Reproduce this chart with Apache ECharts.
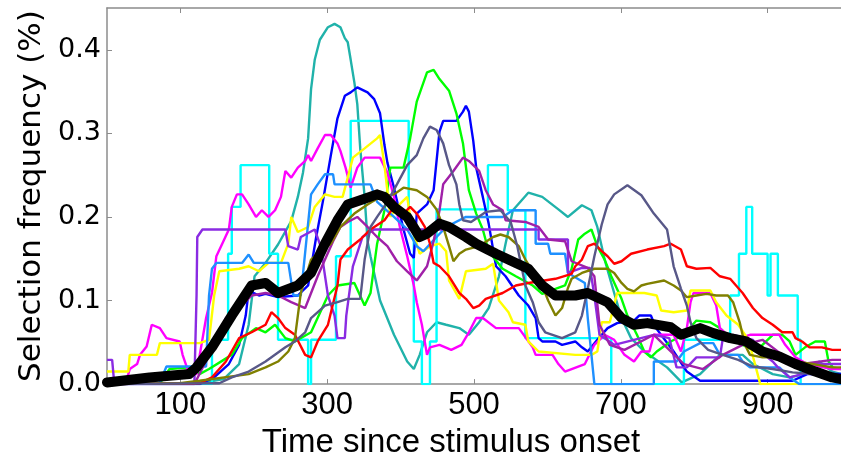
<!DOCTYPE html>
<html>
<head>
<meta charset="utf-8">
<script src="https://cdn.jsdelivr.net/npm/echarts@6/dist/echarts.min.js"></script>
<style>
  html, body { margin: 0; padding: 0; background: #fff; }
  #chart { width: 841px; height: 464px; }
</style>
</head>
<body>
<div id="chart"></div>
<script>
// Tick positions and labels
const xTicks = [100, 300, 500, 700, 900];
const yTicks = [0, 0.1, 0.2, 0.3, 0.4];

// Per-subject selection frequency traces: [time, frequency]
const meanTrace = [[0,.002],[58,.008],[112,.012],[122,.02],[143,.044],[170,.082],[197,.118],[216,.121],[233,.109],[260,.118],[278,.133],[297,.168],[314,.196],[328,.215],[345,.22],[368,.227],[378,.224],[391,.212],[409,.2],[426,.176],[436,.18],[453,.192],[466,.188],[489,.176],[503,.168],[530,.156],[557,.145],[574,.138],[593,.118],[611,.106],[638,.106],[655,.109],[682,.098],[701,.079],[718,.071],[736,.073],[768,.068],[782,.059],[808,.067],[826,.061],[849,.055],[871,.051],[893,.039],[916,.033],[938,.024],[965,.015],[988,.008],[1000,.006]];

const tealTrace = [[0,0],[126,.001],[159,.006],[180,.024],[193,.071],[201,.129],[216,.145],[233,.167],[251,.195],[260,.224],[267,.253],[274,.294],[278,.353],[283,.388],[290,.412],[301,.427],[310,.431],[318,.427],[324,.414],[328,.409],[332,.388],[337,.361],[341,.335],[345,.282],[351,.224],[355,.171],[359,.153],[372,.1],[391,.059],[409,.027],[418,.018],[426,.035],[436,.062],[449,.074],[462,.071],[480,.067],[493,.059],[507,.074],[520,.091],[534,.129],[543,.168],[553,.208],[574,.229],[593,.224],[615,.209],[628,.2],[647,.214],[660,.208],[668,.188],[678,.149],[687,.121],[701,.079],[714,.055],[732,.039],[763,.02],[783,.002],[808,.012],[835,.035],[866,.035],[880,.024],[907,.012],[930,.008],[951,.012],[970,.027],[988,.015],[1000,.012]];

const cyanTrace = [[0,0],[143,.053],[165,.156],[170,.212],[182,.262],[221,.156],[233,.053],[274,0],[278,.053],[312,.153],[332,.315],[411,.194],[418,.051],[429,0],[440,.051],[449,.209],[519,.262],[546,.208],[570,.055],[687,0],[786,.053],[849,.106],[861,.156],[871,.212],[879,.156],[900,.106],[904,.156],[914,.106],[941,.053],[945,0],[1000,0]];

const blueTrace = [[0,0],[126,0],[146,.008],[166,.024],[180,.047],[189,.082],[193,.112],[207,.106],[216,.108],[233,.104],[260,.106],[274,.118],[285,.176],[294,.218],[305,.274],[314,.318],[324,.345],[332,.349],[341,.355],[355,.349],[364,.341],[372,.324],[378,.286],[382,.265],[391,.235],[404,.185],[413,.156],[418,.151],[422,.204],[436,.215],[445,.232],[453,.302],[458,.315],[476,.315],[485,.326],[489,.333],[493,.326],[499,.291],[503,.259],[512,.224],[520,.192],[530,.141],[543,.129],[561,.106],[574,.094],[584,.079],[588,.055],[593,.051],[611,.051],[620,.047],[638,.051],[647,.044],[655,.039],[668,.053],[682,.067],[695,.073],[718,.076],[725,.082],[741,.082],[748,.067],[772,.039],[790,.015],[808,.004],[934,.004],[954,.012],[988,.012],[1000,.012]];

const greenTrace = [[0,0],[72,.001],[85,.018],[112,.02],[126,.012],[139,.018],[159,.029],[170,.035],[184,.055],[203,.067],[216,.062],[229,.071],[243,.055],[256,.051],[278,.062],[301,.106],[314,.118],[337,.121],[351,.094],[359,.109],[368,.168],[378,.208],[386,.259],[404,.259],[413,.294],[422,.338],[436,.373],[445,.376],[453,.365],[466,.351],[476,.324],[485,.288],[493,.232],[503,.204],[512,.185],[520,.159],[539,.138],[557,.129],[580,.118],[593,.108],[611,.114],[624,.118],[633,.138],[642,.173],[651,.18],[660,.185],[668,.165],[678,.149],[687,.129],[701,.102],[709,.082],[722,.059],[732,.039],[741,.032],[749,.039],[768,.051],[786,.059],[803,.076],[822,.074],[835,.067],[849,.055],[866,.047],[884,.039],[893,.047],[907,.059],[920,.059],[930,.051],[938,.035],[951,.044],[965,.051],[978,.051],[983,.027],[989,.02],[1000,.018]];

const magentaTrace = [[0,0],[25,0],[31,.018],[41,.024],[45,.035],[54,.045],[61,.071],[72,.067],[81,.055],[99,.051],[103,.035],[112,.012],[122,.012],[126,.033],[135,.079],[143,.109],[149,.153],[157,.168],[166,.185],[170,.212],[177,.227],[184,.227],[193,.215],[203,.2],[211,.208],[220,.2],[229,.208],[237,.224],[243,.255],[251,.247],[260,.259],[270,.267],[274,.274],[278,.267],[287,.282],[297,.298],[305,.298],[314,.288],[318,.279],[325,.259],[332,.235],[341,.259],[351,.271],[372,.271],[382,.253],[391,.224],[399,.188],[409,.153],[418,.118],[422,.098],[429,.071],[436,.035],[440,.044],[453,.047],[469,.041],[483,.047],[493,.062],[503,.079],[512,.079],[530,.067],[561,.067],[580,.044],[584,.035],[607,.035],[615,.024],[624,.015],[651,.024],[664,.047],[678,.059],[691,.053],[705,.035],[718,.027],[728,.039],[739,.039],[745,.059],[772,.059],[782,.039],[790,.067],[795,.098],[799,.109],[822,.109],[830,.094],[835,.067],[853,.053],[876,.059],[897,.059],[916,.059],[924,.047],[938,.032],[954,.024],[988,.018],[1000,.018]];

const yellowTrace = [[0,.015],[29,.015],[31,.035],[68,.035],[72,.049],[126,.049],[139,.053],[146,.106],[153,.135],[180,.138],[193,.141],[207,.135],[220,.145],[237,.145],[247,.168],[251,.2],[260,.182],[274,.188],[283,.212],[297,.227],[310,.224],[321,.224],[328,.247],[335,.271],[351,.282],[368,.294],[372,.298],[378,.262],[386,.2],[395,.212],[409,.224],[415,.188],[426,.156],[440,.165],[453,.168],[462,.159],[466,.124],[480,.102],[489,.135],[516,.138],[526,.144],[534,.1],[547,.086],[553,.074],[570,.071],[574,.051],[588,.039],[638,.035],[660,.035],[668,.039],[674,.074],[685,.074],[695,.109],[732,.109],[749,.106],[755,.088],[772,.086],[790,.088],[795,.112],[822,.112],[830,.098],[844,.082],[860,.071],[874,.053],[884,.02],[890,0],[1000,0]];

const dodgerTrace = [[0,0],[72,.002],[81,.021],[135,.021],[139,.106],[143,.138],[149,.145],[184,.145],[193,.155],[200,.145],[247,.145],[254,.106],[264,.106],[278,.227],[287,.239],[297,.251],[308,.251],[310,.239],[359,.239],[368,.218],[391,.2],[409,.185],[422,.165],[431,.159],[449,.176],[462,.188],[489,.2],[539,.2],[553,.208],[584,.208],[584,.168],[601,.168],[604,.156],[624,.156],[628,.133],[651,.121],[655,.079],[664,0],[745,0],[745,.027],[776,.027],[786,.039],[808,.049],[826,.049],[835,.035],[860,.035],[866,.027],[876,.02],[916,.02],[930,.008],[943,0],[1000,0]];

const violetTrace = [[0,.029],[7,.029],[10,0],[119,0],[122,.106],[123,.176],[130,.185],[243,.185],[247,.165],[260,.161],[264,.176],[283,.185],[291,.165],[301,.106],[310,.082],[314,.055],[324,.055],[326,.082],[335,.141],[348,.176],[364,.185],[588,.185],[588,.173],[628,.173],[628,.133],[647,.139],[658,.139],[664,.106],[671,.059],[691,.047],[718,.053],[745,.059],[766,.055],[776,.02],[790,.02],[803,.032],[835,.032],[839,.055],[853,.059],[880,.053],[890,.039],[907,.027],[914,.02],[930,.008],[947,.012],[957,.024],[988,.024],[1000,.024]];

const orchidTrace = [[0,0],[119,0],[126,.012],[139,.035],[153,.062],[162,.079],[180,.091],[197,.106],[216,.109],[233,.106],[251,.098],[270,.091],[287,.129],[297,.149],[308,.171],[318,.188],[328,.194],[341,.2],[355,.188],[368,.176],[382,.165],[395,.147],[409,.135],[422,.124],[436,.141],[445,.171],[453,.208],[458,.239],[472,.255],[485,.271],[493,.267],[507,.255],[516,.232],[526,.215],[539,.208],[543,.196],[570,.194],[588,.188],[601,.173],[624,.171],[633,.147],[655,.139],[664,.129],[671,.071],[685,.047],[705,.041],[732,.053],[745,.059],[759,.047],[786,.024],[812,.018],[839,.035],[866,.047],[893,.053],[920,.035],[947,.024],[988,.029],[1000,.029]];

const redTrace = [[0,0],[126,.001],[143,.008],[162,.027],[180,.055],[197,.062],[216,.071],[224,.086],[233,.079],[243,.067],[256,.059],[270,.035],[278,.032],[287,.051],[301,.071],[314,.118],[318,.149],[328,.161],[345,.173],[359,.185],[378,.196],[391,.212],[404,.204],[413,.212],[422,.204],[433,.188],[440,.168],[445,.145],[453,.141],[466,.129],[480,.109],[489,.102],[499,.091],[507,.094],[516,.102],[539,.109],[557,.118],[574,.121],[611,.126],[633,.132],[638,.141],[647,.149],[655,.165],[664,.168],[674,.159],[682,.153],[691,.144],[701,.147],[714,.156],[736,.161],[759,.165],[768,.168],[782,.161],[790,.141],[803,.138],[822,.139],[835,.129],[849,.126],[857,.118],[866,.109],[880,.091],[893,.079],[907,.071],[920,.062],[934,.062],[938,.055],[947,.051],[957,.044],[974,.044],[988,.041],[1000,.041]];

const oliveTrace = [[0,0],[99,.001],[126,.004],[193,.012],[216,.02],[233,.027],[247,.039],[256,.055],[260,.082],[264,.109],[278,.149],[287,.156],[305,.168],[318,.188],[337,.204],[355,.215],[372,.224],[391,.227],[404,.235],[422,.232],[436,.224],[449,.209],[458,.188],[466,.165],[472,.147],[480,.156],[489,.161],[507,.165],[526,.176],[536,.179],[547,.176],[561,.165],[570,.149],[580,.135],[593,.118],[601,.1],[611,.082],[620,.091],[628,.115],[633,.126],[647,.133],[664,.138],[682,.138],[691,.133],[701,.121],[709,.114],[718,.111],[728,.118],[736,.12],[759,.124],[772,.118],[782,.112],[790,.104],[803,.106],[817,.108],[830,.106],[846,.106],[853,.098],[862,.074],[869,.047],[876,.035],[893,.032],[916,.032],[938,.027],[961,.024],[988,.02],[1000,.02]];

const slateTrace = [[0,0],[153,.001],[170,.008],[193,.015],[216,.027],[243,.044],[256,.051],[270,.062],[278,.079],[297,.094],[314,.098],[328,.102],[345,.102],[351,.149],[359,.188],[368,.2],[382,.218],[395,.239],[409,.262],[422,.274],[431,.294],[440,.308],[449,.304],[458,.288],[466,.262],[476,.239],[480,.215],[485,.196],[496,.194],[516,.206],[536,.208],[550,.194],[559,.165],[570,.118],[580,.098],[588,.074],[597,.062],[620,.055],[638,.062],[647,.082],[655,.114],[664,.153],[674,.191],[682,.215],[691,.227],[709,.238],[728,.226],[745,.204],[763,.185],[772,.141],[782,.114],[790,.094],[795,.074],[803,.055],[819,.041],[839,.035],[860,.029],[880,.021],[907,.018],[934,.014],[961,.012],[988,.008],[1000,.008]];

const traces = [
  { data: tealTrace,    color: '#20b2aa' },
  { data: cyanTrace,    color: '#00ffff', step: 'end' },
  { data: blueTrace,    color: '#0000ff' },
  { data: greenTrace,   color: '#00ff00' },
  { data: magentaTrace, color: '#ff00ff' },
  { data: yellowTrace,  color: '#ffff00' },
  { data: dodgerTrace,  color: '#1e90ff' },
  { data: violetTrace,  color: '#8a2be2' },
  { data: orchidTrace,  color: '#a020a8' },
  { data: redTrace,     color: '#ff0000' },
  { data: oliveTrace,   color: '#808000' },
  { data: slateTrace,   color: '#585888' }
];

const axisGrey = '#8c8c8c';
const chart = echarts.init(document.getElementById('chart'), null, { renderer: 'canvas' });

const series = traces.map((t, i) => ({
  type: 'line',
  data: t.data,
  step: t.step || false,
  showSymbol: false,
  symbol: 'none',
  z: 2 + i * 0.01,
  lineStyle: { color: t.color, width: 2.4 },
  silent: true
}));
series.push({
  type: 'line',
  data: meanTrace,
  showSymbol: false,
  symbol: 'none',
  z: 5,
  lineStyle: { color: '#000', width: 10, join: 'round', cap: 'round' },
  silent: true
});

chart.setOption({
  animation: false,
  backgroundColor: '#fff',
  grid: { left: 107, top: 8, width: 741.5, height: 382 },
  xAxis: [{
    type: 'value', min: 0, max: 1000, position: 'bottom',
    axisLine: { show: true, lineStyle: { color: axisGrey, width: 1.5 } },
    axisTick: { show: true, inside: true, length: 5, customValues: xTicks, lineStyle: { color: axisGrey, width: 1 } },
    axisLabel: { customValues: xTicks, fontFamily: 'Liberation Sans', fontSize: 31, color: '#000', margin: 6 },
    splitLine: { show: false },
    name: 'Time since stimulus onset', nameLocation: 'middle', nameGap: 40,
    nameTextStyle: { fontFamily: 'Liberation Sans', fontSize: 33, color: '#000', padding: [0, 46, 0, 0] }
  }, {
    type: 'value', min: 0, max: 1000, position: 'top',
    axisLine: { show: true, lineStyle: { color: axisGrey, width: 1.5 } },
    axisTick: { show: true, inside: true, length: 5, customValues: xTicks, lineStyle: { color: axisGrey, width: 1 } },
    axisLabel: { show: false },
    splitLine: { show: false }
  }],
  yAxis: {
    type: 'value', min: 0, max: 0.45,
    axisLine: { show: true, lineStyle: { color: axisGrey, width: 1.5 } },
    axisTick: { show: true, inside: true, length: 5, customValues: yTicks, lineStyle: { color: axisGrey, width: 1 } },
    axisLabel: { customValues: yTicks, formatter: v => v.toFixed(1), fontFamily: 'DejaVu Sans', fontSize: 27, color: '#000', margin: 6 },
    splitLine: { show: false },
    name: 'Selection frequency (%)', nameLocation: 'middle', nameGap: 60,
    nameTextStyle: { fontFamily: 'DejaVu Sans', fontSize: 31, color: '#000' }
  },
  series: series
});
</script>
</body>
</html>
